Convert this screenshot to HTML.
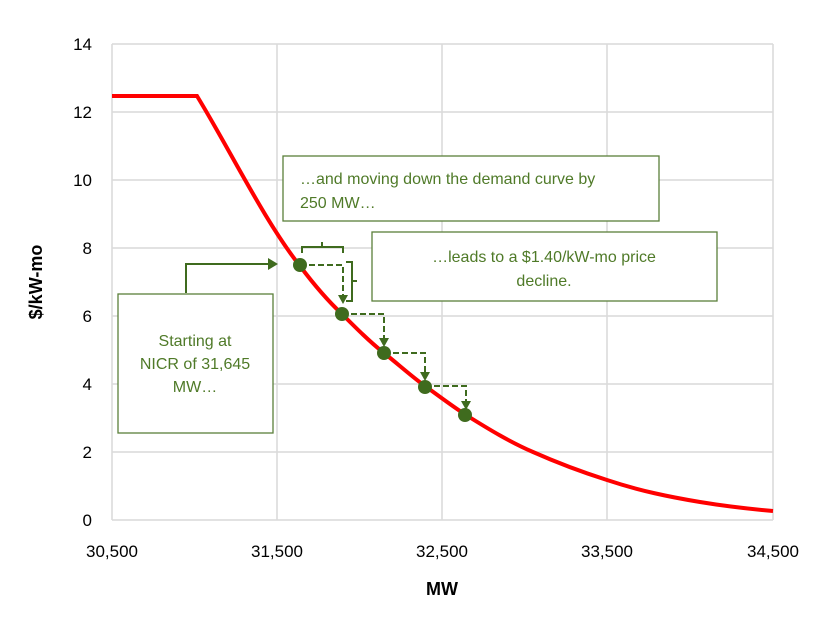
<!DOCTYPE html>
<html><head><style>body{margin:0;background:#fff}</style></head><body>
<svg width="826" height="620" xmlns="http://www.w3.org/2000/svg" font-family="Liberation Sans, sans-serif">
<rect width="826" height="620" fill="#fff"/>
<g stroke="#d9d9d9" stroke-width="1.5">
<line x1="112" y1="44" x2="773" y2="44"/><line x1="112" y1="112" x2="773" y2="112"/><line x1="112" y1="180" x2="773" y2="180"/><line x1="112" y1="248" x2="773" y2="248"/><line x1="112" y1="316" x2="773" y2="316"/><line x1="112" y1="384" x2="773" y2="384"/><line x1="112" y1="452" x2="773" y2="452"/><line x1="112" y1="520" x2="773" y2="520"/>
<line x1="112" y1="44" x2="112" y2="520"/><line x1="277" y1="44" x2="277" y2="520"/><line x1="442" y1="44" x2="442" y2="520"/><line x1="607" y1="44" x2="607" y2="520"/><line x1="773" y1="44" x2="773" y2="520"/>
</g>
<g font-size="17" fill="#000" text-anchor="end">
<text x="92" y="50">14</text><text x="92" y="118">12</text><text x="92" y="186">10</text><text x="92" y="254">8</text><text x="92" y="322">6</text><text x="92" y="390">4</text><text x="92" y="458">2</text><text x="92" y="526">0</text>
</g>
<g font-size="17" fill="#000" text-anchor="middle">
<text x="112" y="557">30,500</text><text x="277" y="557">31,500</text><text x="442" y="557">32,500</text><text x="607" y="557">33,500</text><text x="773" y="557">34,500</text>
</g>
<text x="442" y="595" font-size="18" font-weight="bold" text-anchor="middle">MW</text>
<text transform="translate(42,282) rotate(-90)" font-size="18" font-weight="bold" text-anchor="middle">$/kW-mo</text>
<path d="M112,96 L197,96 C230,150 265,222 300,266 C315,286 328,301 342,314 C356,328 370,342 384,353 C398,364 411,376 425,386 C439,396 452,406 466,415 C490,430 510,442 533,452 C560,464 585,473 607,480 C640,491 670,497 700,502 C730,507 750,509 773,511" fill="none" stroke="#ff0000" stroke-width="4"/>
<g stroke="#3f6b1e" stroke-width="2" fill="none">
<path d="M300,265 H343 V298" stroke-dasharray="6,3"/>
<path d="M342,314 H384 V342" stroke-dasharray="6,3"/>
<path d="M384,353 H425 V376" stroke-dasharray="6,3"/>
<path d="M425,386 H466 V406" stroke-dasharray="6,3"/>
<path d="M302,253 V247 H343 V253 M322,247 V242"/>
<path d="M346,262 H352 V301 H346 M352,281 H357"/>
<path d="M186,293 V264 H270"/>
</g>
<g fill="#3f6b1e">
<path d="M278,264 L268,258 L268,270Z"/>
<path d="M343,304 L338,295 L348,295Z"/><path d="M384,347 L379,338 L389,338Z"/><path d="M425,381 L420,372 L430,372Z"/><path d="M466,410 L461,401 L471,401Z"/>
<circle cx="300" cy="265" r="7"/><circle cx="342" cy="314" r="7"/><circle cx="384" cy="353" r="7"/><circle cx="425" cy="387" r="7"/><circle cx="465" cy="415" r="7"/>
</g>
<g stroke="#5b7f3a" stroke-width="1.3" fill="#fff">
<rect x="283" y="156" width="376" height="65"/>
<rect x="372" y="232" width="345" height="69"/>
<rect x="118" y="294" width="155" height="139"/>
</g>
<g font-size="16" fill="#4f7a28">
<text x="300" y="184">…and moving down the demand curve by</text>
<text x="300" y="208">250 MW…</text>
<text x="544" y="262" text-anchor="middle">…leads to a $1.40/kW-mo price</text>
<text x="544" y="286" text-anchor="middle">decline.</text>
<text x="195" y="346" text-anchor="middle">Starting at</text>
<text x="195" y="369" text-anchor="middle">NICR of 31,645</text>
<text x="195" y="392" text-anchor="middle">MW…</text>
</g>
</svg>
</body></html>
